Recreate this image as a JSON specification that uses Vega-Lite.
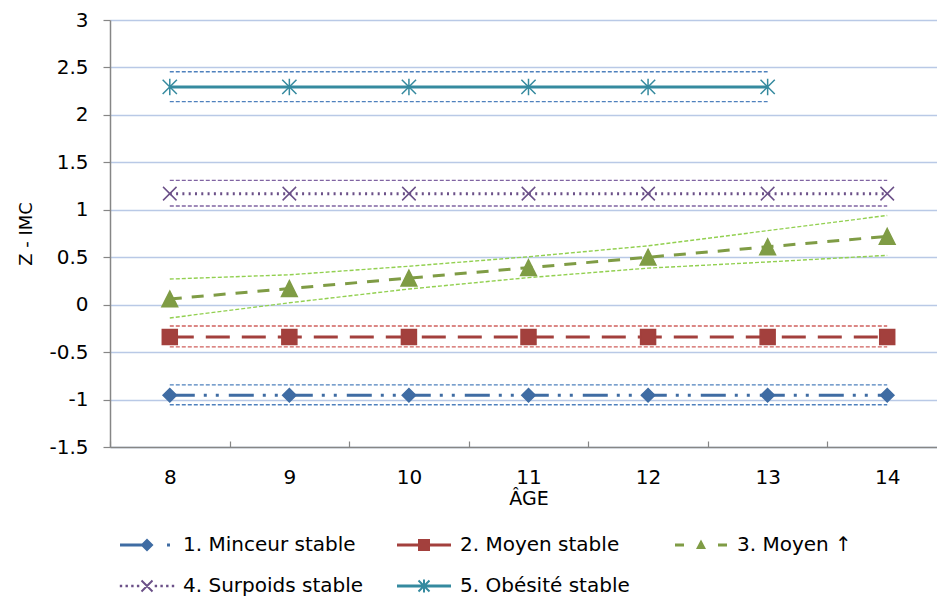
{
  "$schema": "https://vega.github.io/schema/vega-lite/v6.json",
  "width": 827,
  "height": 427,
  "autosize": {"type": "none"},
  "padding": {"left": 110, "top": 20, "right": 0, "bottom": 153},
  "background": "white",
  "config": {
    "view": {"stroke": null},
    "font": "DejaVu Sans",
    "axis": {"labelFont": "DejaVu Sans", "titleFont": "DejaVu Sans", "labelColor": "#000", "titleColor": "#000", "titleFontWeight": "normal", "domainColor": "#868686", "tickColor": "#868686", "domainWidth": 1.5, "tickWidth": 1.2}
  },
  "data": {
    "values": [
      {"age": 8, "serie": "1. Minceur stable", "z": -0.955, "lo": -1.055, "hi": -0.845},
      {"age": 9, "serie": "1. Minceur stable", "z": -0.955, "lo": -1.055, "hi": -0.845},
      {"age": 10, "serie": "1. Minceur stable", "z": -0.955, "lo": -1.055, "hi": -0.845},
      {"age": 11, "serie": "1. Minceur stable", "z": -0.955, "lo": -1.055, "hi": -0.845},
      {"age": 12, "serie": "1. Minceur stable", "z": -0.955, "lo": -1.055, "hi": -0.845},
      {"age": 13, "serie": "1. Minceur stable", "z": -0.955, "lo": -1.055, "hi": -0.845},
      {"age": 14, "serie": "1. Minceur stable", "z": -0.955, "lo": -1.055, "hi": -0.845},
      {"age": 8, "serie": "2. Moyen stable", "z": -0.34, "lo": -0.445, "hi": -0.225},
      {"age": 9, "serie": "2. Moyen stable", "z": -0.34, "lo": -0.445, "hi": -0.225},
      {"age": 10, "serie": "2. Moyen stable", "z": -0.34, "lo": -0.445, "hi": -0.225},
      {"age": 11, "serie": "2. Moyen stable", "z": -0.34, "lo": -0.445, "hi": -0.225},
      {"age": 12, "serie": "2. Moyen stable", "z": -0.34, "lo": -0.445, "hi": -0.225},
      {"age": 13, "serie": "2. Moyen stable", "z": -0.34, "lo": -0.445, "hi": -0.225},
      {"age": 14, "serie": "2. Moyen stable", "z": -0.34, "lo": -0.445, "hi": -0.225},
      {"age": 8, "serie": "3. Moyen ↑", "z": 0.06, "lo": -0.14, "hi": 0.27},
      {"age": 9, "serie": "3. Moyen ↑", "z": 0.17, "lo": 0.02, "hi": 0.315},
      {"age": 10, "serie": "3. Moyen ↑", "z": 0.28, "lo": 0.165, "hi": 0.405},
      {"age": 11, "serie": "3. Moyen ↑", "z": 0.39, "lo": 0.285, "hi": 0.505},
      {"age": 12, "serie": "3. Moyen ↑", "z": 0.5, "lo": 0.385, "hi": 0.62},
      {"age": 13, "serie": "3. Moyen ↑", "z": 0.61, "lo": 0.45, "hi": 0.78},
      {"age": 14, "serie": "3. Moyen ↑", "z": 0.72, "lo": 0.52, "hi": 0.94},
      {"age": 8, "serie": "4. Surpoids stable", "z": 1.17, "lo": 1.04, "hi": 1.31},
      {"age": 9, "serie": "4. Surpoids stable", "z": 1.17, "lo": 1.04, "hi": 1.31},
      {"age": 10, "serie": "4. Surpoids stable", "z": 1.17, "lo": 1.04, "hi": 1.31},
      {"age": 11, "serie": "4. Surpoids stable", "z": 1.17, "lo": 1.04, "hi": 1.31},
      {"age": 12, "serie": "4. Surpoids stable", "z": 1.17, "lo": 1.04, "hi": 1.31},
      {"age": 13, "serie": "4. Surpoids stable", "z": 1.17, "lo": 1.04, "hi": 1.31},
      {"age": 14, "serie": "4. Surpoids stable", "z": 1.17, "lo": 1.04, "hi": 1.31},
      {"age": 8, "serie": "5. Obésité stable", "z": 2.295, "lo": 2.14, "hi": 2.455},
      {"age": 9, "serie": "5. Obésité stable", "z": 2.295, "lo": 2.14, "hi": 2.455},
      {"age": 10, "serie": "5. Obésité stable", "z": 2.295, "lo": 2.14, "hi": 2.455},
      {"age": 11, "serie": "5. Obésité stable", "z": 2.295, "lo": 2.14, "hi": 2.455},
      {"age": 12, "serie": "5. Obésité stable", "z": 2.295, "lo": 2.14, "hi": 2.455},
      {"age": 13, "serie": "5. Obésité stable", "z": 2.295, "lo": 2.14, "hi": 2.455}
    ]
  },
  "encoding": {
    "x": {
      "field": "age", "type": "ordinal", "title": "ÂGE",
      "scale": {"type": "band", "paddingInner": 0, "paddingOuter": 0, "range": [0, 837]},
      "axis": {"labelAngle": 0, "tickBand": "extent", "tickSize": -6, "grid": false, "labelFontSize": 20, "labelPadding": 26, "titleFontSize": 19, "titlePadding": 2}
    },
    "y": {
      "type": "quantitative", "title": "Z - IMC",
      "scale": {"domain": [-1.5, 3], "nice": false, "zero": false},
      "axis": {"values": [-1.5, -1, -0.5, 0, 0.5, 1, 1.5, 2, 2.5, 3], "labelExpr": "datum.value + ''", "grid": true, "gridColor": "#B9C9E6", "gridWidth": 1.5, "tickSize": 7, "labelPadding": 15, "labelFontSize": 20, "titleFontSize": 18, "titlePadding": 13}
    }
  },
  "resolve": {"scale": {"color": "independent", "shape": "independent"}},
  "layer": [
    {
      "mark": {"type": "line", "strokeWidth": 1.4, "strokeDash": [4, 2]},
      "encoding": {
        "y": {"field": "hi", "type": "quantitative"},
        "detail": {"field": "serie"},
        "stroke": {"field": "serie", "type": "nominal", "legend": null,
          "scale": {"domain": ["1. Minceur stable", "2. Moyen stable", "3. Moyen ↑", "4. Surpoids stable", "5. Obésité stable"], "range": ["#4F81BD", "#D0605D", "#92D050", "#8064A2", "#4F81BD"]}}
      }
    },
    {
      "mark": {"type": "line", "strokeWidth": 1.4, "strokeDash": [4, 2]},
      "encoding": {
        "y": {"field": "lo", "type": "quantitative"},
        "detail": {"field": "serie"},
        "stroke": {"field": "serie", "type": "nominal", "legend": null}
      }
    },
    {
      "mark": {"type": "line", "strokeWidth": 3},
      "encoding": {
        "y": {"field": "z", "type": "quantitative"},
        "color": {"field": "serie", "type": "nominal", "legend": null,
          "scale": {"domain": ["1. Minceur stable", "2. Moyen stable", "3. Moyen ↑", "4. Surpoids stable", "5. Obésité stable"], "range": ["#3F6CA3", "#A3403D", "#7F9C45", "#6B5088", "#358A9F"]}},
        "strokeDash": {"field": "serie", "type": "nominal", "legend": null,
          "scale": {"domain": ["1. Minceur stable", "2. Moyen stable", "3. Moyen ↑", "4. Surpoids stable", "5. Obésité stable"], "range": [[25, 9, 3, 9, 3, 10], [24, 12], [12, 10], [2, 4.3], [1, 0]]}}
      }
    },
    {
      "mark": {"type": "point", "filled": false, "strokeWidth": 1.5, "size": 225, "opacity": 1},
      "encoding": {
        "y": {"field": "z", "type": "quantitative"},
        "color": {"field": "serie", "type": "nominal", "legend": null,
          "scale": {"domain": ["1. Minceur stable", "2. Moyen stable", "3. Moyen ↑", "4. Surpoids stable", "5. Obésité stable"], "range": ["#3F6CA3", "#A3403D", "#7F9C45", "#6B5088", "#358A9F"]}},
        "fill": {"field": "serie", "type": "nominal", "legend": null,
          "scale": {"domain": ["1. Minceur stable", "2. Moyen stable", "3. Moyen ↑", "4. Surpoids stable", "5. Obésité stable"], "range": ["#3F6CA3", "#A3403D", "#7F9C45", "#6B5088", "#358A9F"]}},
        "shape": {"field": "serie", "type": "nominal", "legend": null,
          "scale": {"domain": ["1. Minceur stable", "2. Moyen stable", "3. Moyen ↑", "4. Surpoids stable", "5. Obésité stable"], "range": ["M0,-0.9L0.9,0L0,0.9L-0.9,0Z", "M-1,-1H1V1H-1Z", "M0,-1.05L1.05,1.05H-1.05Z", "M-0.9,-0.9L0.9,0.9M-0.9,0.9L0.9,-0.9", "M-0.95,-0.95L0.95,0.95M-0.95,0.95L0.95,-0.95M0,-1.1V1.1"]}}
      }
    },
    {
      "transform": [{"filter": "datum.age < 0"}],
      "mark": {"type": "point", "filled": true, "size": 400, "opacity": 1},
      "encoding": {
        "y": {"field": "z", "type": "quantitative"},
        "color": {"field": "serie", "type": "nominal",
          "scale": {"domain": ["1. Minceur stable", "2. Moyen stable", "3. Moyen ↑", "4. Surpoids stable", "5. Obésité stable"], "range": ["#3F6CA3", "#A3403D", "#7F9C45", "#6B5088", "#358A9F"]},
          "legend": {
            "title": null, "orient": "none", "legendX": 27, "legendY": 515,
            "columns": 3, "direction": "horizontal", "gridAlign": "all",
            "symbolSize": 400, "symbolOpacity": 1, "symbolStrokeWidth": 0, "labelOffset": 26, "columnPadding": 33, "rowPadding": 21,
            "labelFont": "DejaVu Sans", "labelFontSize": 20, "labelColor": "#000", "labelLimit": 400
          }
        },
        "shape": {"field": "serie", "type": "nominal",
          "scale": {"domain": ["1. Minceur stable", "2. Moyen stable", "3. Moyen ↑", "4. Surpoids stable", "5. Obésité stable"], "range": [
            "M-2.7,-0.15H-0.5V0.15H-2.7ZM0,-0.65L0.65,0L0,0.65L-0.65,0ZM2.0,-0.15H2.3V0.15H2.0Z",
            "M-2.7,-0.15H2.7V0.15H-2.7ZM-0.6,-0.6H0.6V0.6H-0.6Z",
            "M-2.6,-0.15H-1.7V0.15H-2.6ZM1.7,-0.15H2.6V0.15H1.7ZM0,-0.55L0.5,0.4H-0.5Z",
            "M-2.72,-0.12h0.24v0.24h-0.24ZM-2.15,-0.12h0.24v0.24h-0.24ZM-1.58,-0.12h0.24v0.24h-0.24ZM-1.01,-0.12h0.24v0.24h-0.24ZM0.77,-0.12h0.24v0.24h-0.24ZM1.34,-0.12h0.24v0.24h-0.24ZM1.91,-0.12h0.24v0.24h-0.24ZM2.48,-0.12h0.24v0.24h-0.24ZM-0.48,-0.62L0.62,0.48L0.48,0.62L-0.62,-0.48ZM-0.62,0.48L0.48,-0.62L0.62,-0.48L-0.48,0.62Z",
            "M-2.7,-0.15H2.7V0.15H-2.7ZM-0.48,-0.62L0.62,0.48L0.48,0.62L-0.62,-0.48ZM-0.62,0.48L0.48,-0.62L0.62,-0.48L-0.48,0.62ZM-0.1,-0.65H0.1V0.65H-0.1Z"
          ]}
        }
      }
    }
  ]
}
